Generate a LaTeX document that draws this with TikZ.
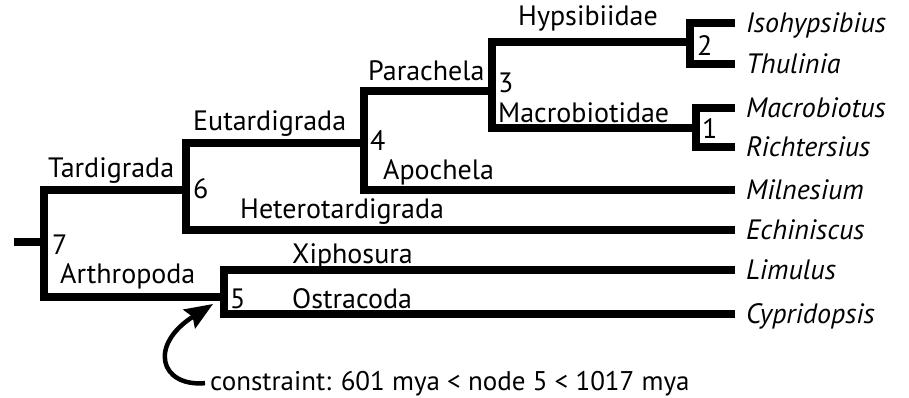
\documentclass[tikz,border=0pt]{standalone}
\usepackage{fontspec}
\setmainfont{PT Sans}
\usetikzlibrary{arrows.meta}
\begin{document}
\begin{tikzpicture}[x=1pt,y=-1pt,
  branch/.style={line width=7.4pt,line join=miter,line cap=butt},
  lbl/.style={anchor=base west,inner sep=0pt,font=\fontsize{28}{32}\selectfont},
  taxon/.style={lbl,font=\fontsize{28}{32}\selectfont\itshape},
  note/.style={lbl,font=\fontsize{27}{31}\selectfont},
  pointer/.style={line width=4.5pt,-{Stealth[length=28pt,width=22pt,inset=4pt]}}]
\useasboundingbox (0,0) rectangle (909,397);

% internal nodes of the tree
\coordinate (root) at (14,242);
\coordinate (n7) at (44,242);
\coordinate (n6) at (186,190);
\coordinate (n4) at (364,143);
\coordinate (n3) at (492,91);
\coordinate (n2) at (690,42);
\coordinate (n1) at (696,128);
\coordinate (n5) at (224,297);

% branch tips
\coordinate (t1) at (735,23);
\coordinate (t2) at (735,64);
\coordinate (t3) at (735,108);
\coordinate (t4) at (735,147);
\coordinate (t5) at (735,190);
\coordinate (t6) at (735,230);
\coordinate (t7) at (735,270);
\coordinate (t8) at (735,314);

% branches
\draw[branch] (t1) -| (n2) |- (t2);
\draw[branch] (t3) -| (n1) |- (t4);
\draw[branch] (n2) -| (n3) |- (n1);
\draw[branch] (n3) -| (n4) |- (t5);
\draw[branch] (n4) -| (n6) |- (t6);
\draw[branch] (n6) -| (n7) |- (n5);
\draw[branch] (t7) -| (n5) |- (t8);
\draw[branch] (root) -- (n7);

% taxon names at the tips
\foreach \t/\name in {t1/Isohypsibius,t2/Thulinia,t3/Macrobiotus,t4/Richtersius,
  t5/Milnesium,t6/Echiniscus,t7/Limulus,t8/Cypridopsis}
  \node[taxon] (l\t) at ([xshift=11pt,yshift=-9pt]\t) {\name};

% clade names along the branches
\node[lbl] (hyp) at (518,25) {Hypsibiidae};
\node[lbl] (par) at (368,80) {Parachela};
\node[lbl] (mac) at (498,122) {Macrobiotidae};
\node[lbl] (eut) at (193,130) {Eutardigrada};
\node[lbl] (apo) at (383,179) {Apochela};
\node[lbl] (tar) at (48,177) {Tardigrada};
\node[lbl] (het) at (240,218) {Heterotardigrada};
\node[lbl] (xip) at (292,263) {Xiphosura};
\node[lbl] (art) at (60,283) {Arthropoda};
\node[lbl] (ost) at (292,308) {Ostracoda};

% node numbers
\node[lbl] (k2) at (697,55) {2};
\node[lbl] (k3) at (498,92) {3};
\node[lbl] (k1) at (702,138) {1};
\node[lbl] (k4) at (370,150) {4};
\node[lbl] (k6) at (193,198) {6};
\node[lbl] (k7) at (52,254) {7};
\node[lbl] (k5) at (230,308) {5};

% calibration note
\node[note,inner xsep=6pt] (cons) at (204,390) {constraint: 601 mya < node 5 < 1017 mya};
\coordinate (ctip) at (213,304);
\draw[pointer] ([xshift=1pt]cons.west) .. controls (160,387) and (148,345) .. (ctip);
\end{tikzpicture}
\end{document}
